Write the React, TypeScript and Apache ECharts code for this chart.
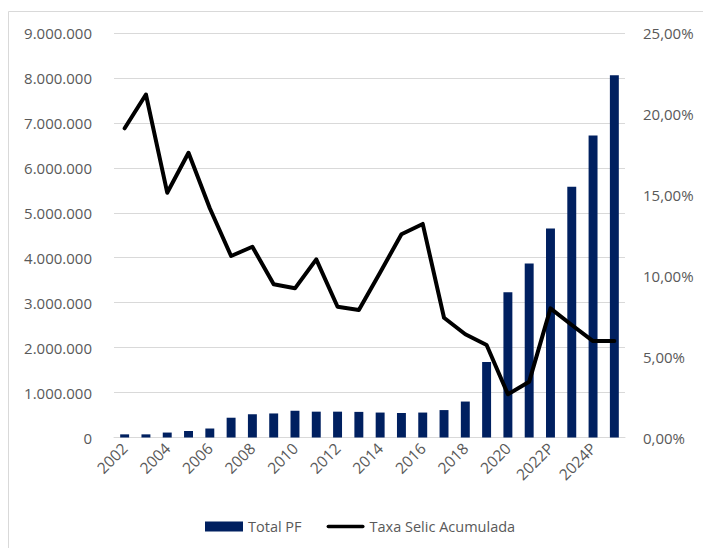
import React, { useEffect, useRef } from "react";
import * as echarts from "echarts";

const categories = [
  "2002", "2003", "2004", "2005", "2006", "2007", "2008", "2009", "2010", "2011",
  "2012", "2013", "2014", "2015", "2016", "2017", "2018", "2019", "2020", "2021",
  "2022P", "2023P", "2024P", "2025P",
];
const totalPF = [
  70000, 70000, 110000, 145000, 200000, 440000, 520000, 535000, 595000, 575000,
  575000, 570000, 555000, 545000, 555000, 610000, 800000, 1680000, 3230000, 3870000,
  4650000, 5580000, 6720000, 8060000,
];
const selic = [
  19.11, 21.2, 15.13, 17.6, 14.17, 11.22, 11.79, 9.47, 9.22, 11.01,
  8.08, 7.88, 10.2, 12.56, 13.2, 7.4, 6.38, 5.72, 2.67, 3.45,
  7.98, 6.95, 5.96, 5.96,
];
const seriesNames = ["Total PF", "Taxa Selic Acumulada"];

const FONT = "Open Sans";
const GREY = "#595959";

function fmtThousands(v: number) {
  return String(Math.round(v)).replace(/\B(?=(\d{3})+(?!\d))/g, ".");
}

export default function App() {
  const ref = useRef<HTMLDivElement>(null);
  useEffect(() => {
    if (!ref.current) return;
    const chart = echarts.init(ref.current, undefined, { renderer: "svg" });
    chart.setOption({
      animation: false,
      backgroundColor: "#ffffff",
      textStyle: { fontFamily: FONT },
      graphic: [
        {
          type: "rect",
          shape: { x: 8.5, y: 11.5, width: 700, height: 560 },
          style: { fill: "none", stroke: "#d9d9d9", lineWidth: 1 },
          silent: true,
          z: -10,
        },
      ],
      grid: { left: 114, right: 78, top: 33, bottom: 110.5 },
      legend: {
        bottom: 9,
        left: 200,
        itemWidth: 38,
        itemHeight: 10,
        itemGap: 25,
        textStyle: { color: GREY, fontSize: 14.5, fontFamily: FONT },
        data: [
          { name: seriesNames[0], icon: "rect" },
          {
            name: seriesNames[1],
            icon: "path://M1.5,0 L36.5,0 A1.5,1.5 0 0 1 36.5,3.5 L1.5,3.5 A1.5,1.5 0 0 1 1.5,0 Z",
            itemStyle: { color: "#000000" },
          },
        ],
      },
      xAxis: {
        type: "category",
        data: categories,
        axisLine: { show: true, lineStyle: { color: "#d9d9d9" } },
        axisTick: { show: false },
        axisLabel: {
          interval: 1,
          rotate: 45,
          color: GREY,
          fontSize: 15.5,
          fontFamily: FONT,
          margin: 8,
        },
      },
      yAxis: [
        {
          type: "value",
          min: 0,
          max: 9000000,
          interval: 1000000,
          axisLine: { show: false },
          axisTick: { show: false },
          splitLine: { lineStyle: { color: "#d9d9d9", width: 1 } },
          axisLabel: {
            color: GREY,
            fontSize: 15,
            fontFamily: FONT,
            margin: 22,
            formatter: (v: number) => fmtThousands(v),
          },
        },
        {
          type: "value",
          min: 0,
          max: 25,
          interval: 5,
          position: "right",
          axisLine: { show: false },
          axisTick: { show: false },
          splitLine: { show: false },
          axisLabel: {
            color: GREY,
            fontSize: 15,
            fontFamily: FONT,
            margin: 18,
            formatter: (v: number) => v.toFixed(2).replace(".", ",") + "%",
          },
        },
      ],
      series: [
        {
          name: seriesNames[0],
          type: "bar",
          yAxisIndex: 0,
          data: totalPF,
          barWidth: "42%",
          itemStyle: { color: "#002060" },
        },
        {
          name: seriesNames[1],
          type: "line",
          yAxisIndex: 1,
          data: selic,
          symbol: "none",
          showSymbol: false,
          lineStyle: { color: "#000000", width: 4, cap: "round", join: "round" },
          itemStyle: { color: "#000000" },
          z: 5,
        },
      ],
    });
    return () => chart.dispose();
  }, []);
  return (
    <div
      ref={ref}
      style={{ position: "fixed", left: 0, top: 0, width: 703, height: 548 }}
    />
  );
}
